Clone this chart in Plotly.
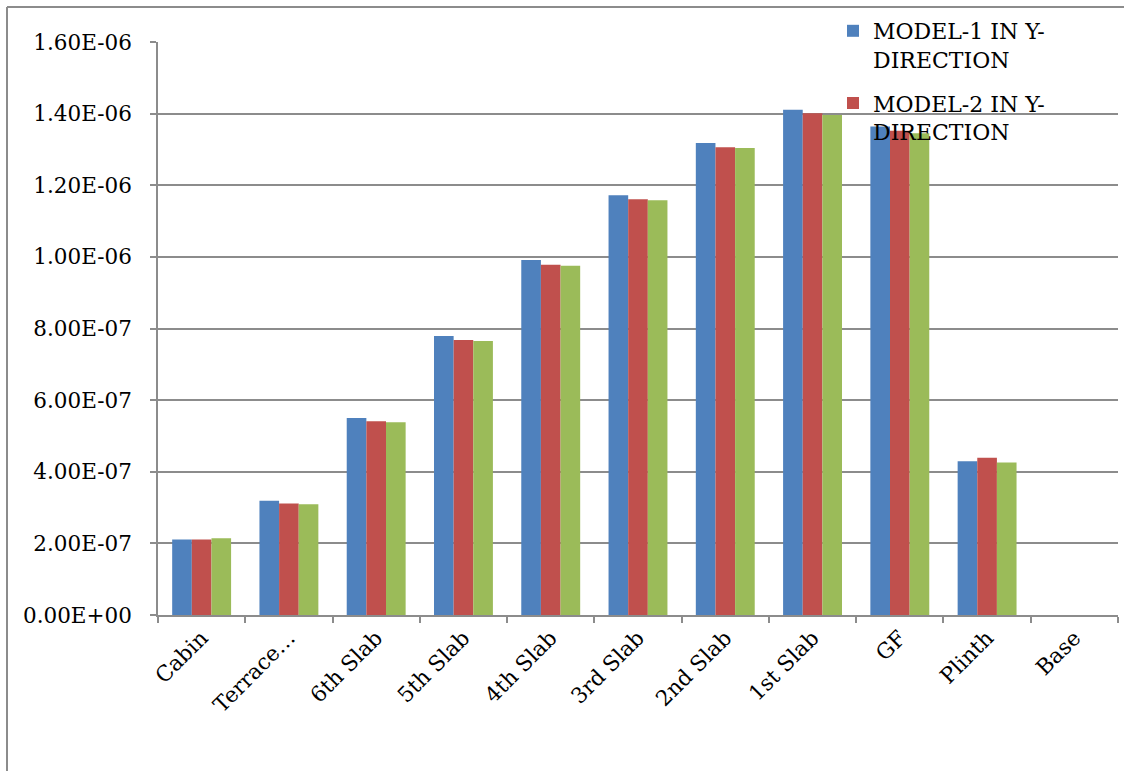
import plotly.graph_objects as go

categories = ["Cabin", "Terrace…", "6th Slab", "5th Slab", "4th Slab", "3rd Slab",
              "2nd Slab", "1st Slab", "GF", "Plinth", "Base"]
model1 = [2.11e-7, 3.19e-7, 5.50e-7, 7.79e-7, 9.91e-7, 1.172e-6, 1.318e-6, 1.411e-6, 1.364e-6, 4.29e-7, 0]
model2 = [2.11e-7, 3.11e-7, 5.41e-7, 7.68e-7, 9.78e-7, 1.161e-6, 1.306e-6, 1.401e-6, 1.352e-6, 4.39e-7, 0]
model3 = [2.14e-7, 3.09e-7, 5.38e-7, 7.65e-7, 9.75e-7, 1.158e-6, 1.304e-6, 1.396e-6, 1.345e-6, 4.26e-7, 0]
series_names = ["MODEL-1 IN Y-<br>DIRECTION", "MODEL-2 IN Y-<br>DIRECTION", "MODEL-3 IN Y-<br>DIRECTION"]
colors = ["#4F81BD", "#C0504D", "#9BBB59"]
ytick_vals = [0, 2e-7, 4e-7, 6e-7, 8e-7, 1e-6, 1.2e-6, 1.4e-6, 1.6e-6]
ytick_text = ["0.00E+00", "2.00E-07", "4.00E-07", "6.00E-07", "8.00E-07",
              "1.00E-06", "1.20E-06", "1.40E-06", "1.60E-06"]

FONT = "DejaVu Serif"
fig = go.Figure()
for i, (vals, name, col) in enumerate(zip([model1, model2, model3], series_names, colors)):
    fig.add_trace(go.Bar(
        x=categories, y=vals, name=name, marker=dict(color=col, line=dict(width=0)),
        showlegend=(i < 2), legendgroup=f"g{i}",
    ))

W, H = 1124, 771
L, R, T, B = 158, 6, 42, 156
pw, ph = W - L - R, H - T - B

fig.update_layout(
    width=W, height=H,
    margin=dict(l=L, r=R, t=T, b=B, pad=0),
    paper_bgcolor="white", plot_bgcolor="white",
    barmode="group", bargap=0.325, bargroupgap=0,
    font=dict(family=FONT, size=21, color="black"),
    legend=dict(
        x=(833 - L) / pw, xanchor="left",
        y=1 + (T - 10) / ph, yanchor="top",
        bgcolor="rgba(0,0,0,0)", font=dict(family=FONT, size=22, color="black"),
        tracegroupgap=12, valign="top", itemwidth=30,
    ),
    xaxis=dict(
        type="category", showline=True, linecolor="#8c8c8c", linewidth=1.5,
        ticks="outside", tickson="boundaries", ticklen=6, tickcolor="#8c8c8c", tickwidth=1.5,
        tickangle=-45, showgrid=False, tickfont=dict(family=FONT, size=21.5),
    ),
    yaxis=dict(
        range=[0, 1.6e-6], tickvals=ytick_vals, ticktext=ytick_text,
        showline=True, linecolor="#8c8c8c", linewidth=1.5,
        ticks="outside", ticklen=6, tickcolor="#8c8c8c", tickwidth=1.5,
        showgrid=True, gridcolor="#8c8c8c", gridwidth=1.5,
        zeroline=False, tickfont=dict(family=FONT, size=21.5), ticklabelstandoff=14,
    ),
    shapes=[
        dict(type="line", xref="paper", yref="paper",
             x0=(7 - L) / pw, x1=(7 - L) / pw, y0=1 + (T - 7) / ph, y1=-0.5,
             line=dict(color="#8c8c8c", width=2)),
        dict(type="line", xref="paper", yref="paper",
             x0=(7 - L) / pw, x1=1.2, y0=1 + (T - 7) / ph, y1=1 + (T - 7) / ph,
             line=dict(color="#8c8c8c", width=2)),
    ],
)
fig.write_html("out.html")
